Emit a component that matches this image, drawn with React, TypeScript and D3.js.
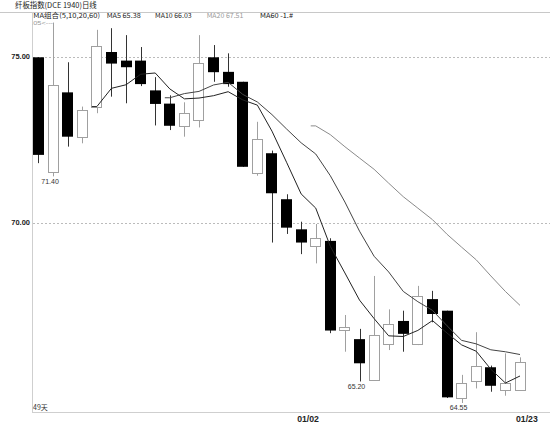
import React from "react";
import * as d3 from "d3";

const dates = [
  "12/06","12/07","12/08","12/11","12/12","12/13","12/14","12/15","12/18","12/19",
  "12/20","12/21","12/22","12/25","12/26","12/27","12/28","12/29",
  "01/02","01/03","01/04","01/05","01/08","01/09","01/10","01/11","01/12",
  "01/15","01/16","01/17","01/18","01/19","01/22","01/23",
];
const opens = [75.00,71.54,73.94,72.60,73.51,75.16,74.90,74.90,74.00,73.60,72.93,73.10,75.00,74.56,74.26,71.49,72.10,70.71,69.80,69.30,69.45,66.76,66.48,65.24,66.33,67.03,66.33,67.69,67.34,64.69,65.21,65.63,64.94,64.94];
const highs = [75.00,76.05,74.85,73.51,75.83,75.88,75.67,75.31,74.40,73.85,73.64,75.67,75.37,75.12,74.26,73.05,72.18,70.86,70.03,69.96,69.53,67.21,66.79,68.39,67.38,67.34,68.09,67.94,67.34,65.40,66.69,65.68,66.05,65.93];
const lows = [71.80,71.40,72.30,72.40,73.31,73.81,73.61,74.13,72.94,72.80,72.60,72.88,74.26,74.11,71.69,71.42,69.40,69.66,69.05,68.77,66.66,66.10,65.20,65.24,66.15,66.10,66.30,66.99,64.70,64.55,64.99,64.89,64.77,64.92];
const closes = [72.05,74.16,72.60,73.40,75.34,74.81,74.70,74.19,73.59,72.93,73.31,74.82,74.55,74.19,71.69,72.52,70.89,69.85,69.40,69.55,66.74,66.86,65.75,66.61,66.94,66.64,67.78,67.24,64.72,65.15,65.68,65.07,65.15,65.78];

const yTicks = [75, 70];
const xTickLabels = ["01/02", "01/23"];
const lowMarks = [1, 22, 29];
const highMark = 1;
const maPeriods = [5, 10, 20];
const maColors = ["#222", "#444", "#8a8a8a"];

const title = "纤板指数(DCE 1940)日线";
const legendItems = ["MA组合(5,10,20,60)", "MA5 65.38", "MA10 66.03", "MA20 67.51", "MA60 -1.#"];
const legendColors = ["#222", "#222", "#222", "#999", "#111"];
const dayCount = "49天";

const W = 550, H = 425;
const plotL = 32, plotT = 12, plotB = 413;

export default function App() {
  const x = d3.scaleBand<string>().domain(dates).range([31.2, 527.3]).paddingInner(0.25).paddingOuter(0.125);
  const y = d3.scaleLinear().domain([70, 75]).range([222.7, 57.3]);
  const cx = (i: number) => (x(dates[i]) as number) + x.bandwidth() / 2;

  const maSeries = maPeriods.map((n) =>
    closes.map((_, i) => (i < n - 1 ? null : (d3.mean(closes.slice(i - n + 1, i + 1)) as number)))
  );
  const line = d3.line<[number, number]>().x((d) => d[0]).y((d) => d[1]);
  const maPaths = maSeries.map((s) => {
    const pts: [number, number][] = [];
    s.forEach((v, i) => { if (v != null) pts.push([cx(i), y(v)]); });
    if (pts.length) pts.unshift([pts[0][0] - 5, pts[0][1]]);
    return line(pts) || "";
  });

  const legendX = [33.3, 106.7, 155, 206.7, 260];
  const legendW = [66.7, 34, 36.7, 36.7, 33];
  const font = "'Noto Sans CJK SC', 'DejaVu Sans', sans-serif";
  const numFont = "'Liberation Sans', Arial, sans-serif";

  return (
    <svg width={W} height={H} style={{ position: "absolute", left: 0, top: 0, background: "#fff" }}>
      <defs>
        <clipPath id="plotClip">
          <rect x={plotL + 0.5} y={plotT} width={W - plotL} height={plotB - plotT} />
        </clipPath>
      </defs>
      <rect x={0} y={0} width={W} height={H} fill="#fff" />

      {/* title and legend */}
      <text x={15} y={6} fontFamily={font} fontSize={7.5} fill="#222" dominantBaseline="middle"
        textLength={81.7} lengthAdjust="spacingAndGlyphs">{title}</text>
      <line x1={0} x2={W} y1={12.5} y2={12.5} stroke="#c8c8c8" />
      {legendItems.map((t, i) => (
        <text key={t} x={legendX[i]} y={16.3} fontFamily={font} fontSize={6.6} fill={legendColors[i]}
          dominantBaseline="middle" textLength={legendW[i]} lengthAdjust="spacingAndGlyphs">{t}</text>
      ))}

      {/* frame */}
      <line x1={plotL + 0.5} x2={plotL + 0.5} y1={plotT} y2={plotB} stroke="#cfcfcf" />
      <line x1={plotL} x2={W} y1={plotB - 0.5} y2={plotB - 0.5} stroke="#cfcfcf" />

      {/* grid + y labels */}
      {yTicks.map((t) => (
        <g key={t}>
          <line x1={plotL + 1} x2={W} y1={Math.round(y(t)) + 0.5} y2={Math.round(y(t)) + 0.5}
            stroke="#bbb" strokeDasharray="2,2" />
          <text x={30} y={y(t)} textAnchor="end" dominantBaseline="middle" fontFamily={numFont}
            fontSize={7.5} fontWeight="bold" fill="#222">{t.toFixed(2)}</text>
        </g>
      ))}

      <g clipPath="url(#plotClip)">
        {/* high marker */}
        <text x={cx(highMark)} y={y(highs[highMark]) + 0.8} textAnchor="end" dominantBaseline="middle"
          fontFamily={numFont} fontSize={5.6} fill="#999" textLength={30} lengthAdjust="spacingAndGlyphs">
          {`${highs[highMark].toFixed(2)}<---`}
        </text>

        {/* candles */}
        {dates.map((d, i) => {
          const c = cx(i);
          const up = closes[i] >= opens[i];
          const wx = Math.round(c) + 0.5;
          const top = y(Math.max(opens[i], closes[i]));
          const bot = y(Math.min(opens[i], closes[i]));
          const bx = Math.round(c - 5.5);
          return (
            <g key={d}>
              <line x1={wx} x2={wx} y1={y(highs[i])} y2={y(lows[i])} stroke={up ? "#a0a0a0" : "#333"} />
              {up ? (
                <rect x={bx + 0.5} y={Math.round(top) + 0.5} width={10}
                  height={Math.max(1, Math.round(bot) - Math.round(top))} fill="#fff" stroke="#a0a0a0" />
              ) : (
                <rect x={bx} y={top} width={11} height={Math.max(1, bot - top)} fill="#000" />
              )}
            </g>
          );
        })}

        {/* moving averages */}
        {maPaths.map((p, k) => (
          <path key={k} d={p} fill="none" stroke={maColors[k]} strokeWidth={1} />
        ))}

        {/* low labels */}
        {lowMarks.map((i) => (
          <text key={i} x={cx(i) - 3} y={y(lows[i]) + 5.5} textAnchor="middle" dominantBaseline="middle"
            fontFamily={numFont} fontSize={7} fill="#333">{lows[i].toFixed(2)}</text>
        ))}
      </g>

      <text x={33} y={407.7} fontFamily={font} fontSize={7} fill="#333" dominantBaseline="middle">{dayCount}</text>

      {/* x labels */}
      {xTickLabels.map((t) => {
        const i = dates.indexOf(t);
        return (
          <text key={t} x={cx(i) - 4} y={420} dominantBaseline="middle" fontFamily={numFont}
            fontSize={8.7} fontWeight="bold" fill="#222">{t}</text>
        );
      })}
    </svg>
  );
}
